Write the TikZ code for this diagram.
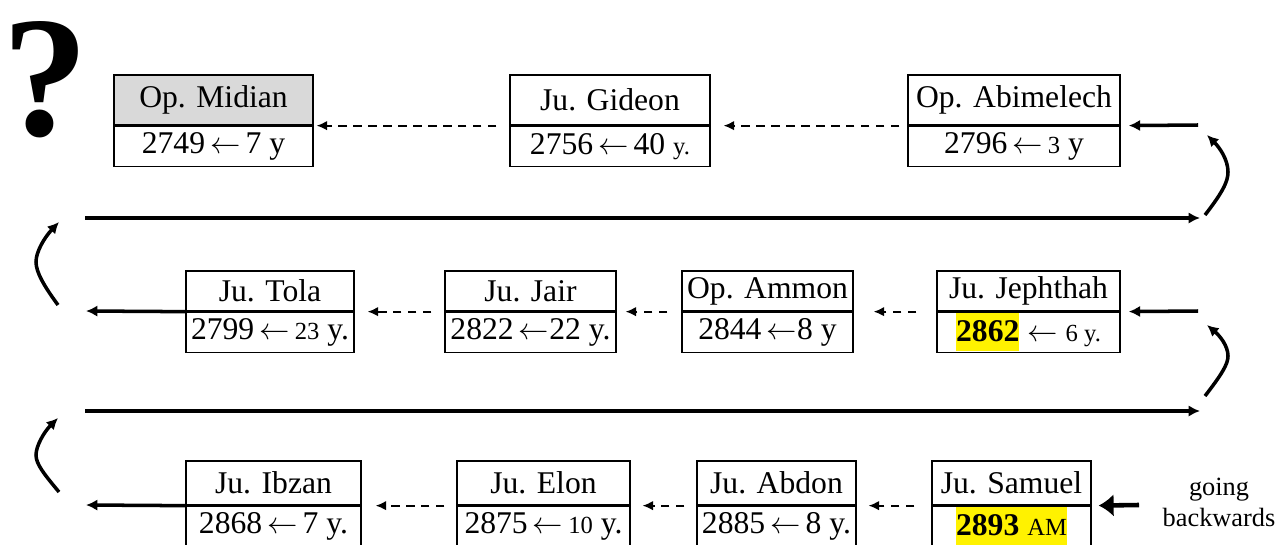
\documentclass[tikz,border=0pt]{standalone}
\usepackage{fontspec}
\setmainfont{Liberation Serif}
\usepackage{tikz}
\usetikzlibrary{arrows.meta,positioning}
\newcommand{\sm}[1]{{\fontsize{14}{14}\selectfont #1}}
\newcommand{\hl}[1]{{\setlength{\fboxsep}{0pt}\colorbox{yellow}{\rule[-5.5pt]{0pt}{21.5pt}#1}}}
\newcommand{\la}{$\,\leftarrow\,$}

\begin{document}
\begin{tikzpicture}[x=0.02cm, y=-0.02cm,
  judge/.style={draw, line width=0.75pt, inner sep=0pt, font=\fontsize{18}{20}\selectfont},
  back/.style={line width=1pt, dash pattern=on 5pt off 3.5pt, -{Latex[length=6pt,width=5.5pt]}},
  turn/.style={line width=2pt, -{Latex[length=6.5pt,width=6.5pt]}}]
\useasboundingbox (0,0) rectangle (1287,544);

% The unknown start
\node[anchor=base, inner sep=0pt, font=\fontsize{98}{98}\selectfont\bfseries] (what) at (46,135) {?};

% Top row of boxes
\node[judge, fill=black!15, minimum width=3.98cm, minimum height=1cm] (midian) at (213.5,100) {Op. Midian};
\node[judge, minimum width=3.98cm, minimum height=0.8cm, below=0pt of midian] (midian-y) {2749\la7 y};
\node[judge, minimum width=4cm, minimum height=1cm] (gideon) at (610,100) {Ju. Gideon};
\node[judge, minimum width=4cm, minimum height=0.8cm, below=0pt of gideon] (gideon-y) {2756\la40 \sm{y.}};
\node[judge, minimum width=4.24cm, minimum height=1cm] (abimelech) at (1014,100) {Op. Abimelech};
\node[judge, minimum width=4.24cm, minimum height=0.8cm, below=0pt of abimelech] (abimelech-y) {2796\la\sm{3} y};

% Middle row of boxes
\node[judge, minimum width=3.36cm, minimum height=0.8cm] (tola) at (270,291) {Ju. Tola};
\node[judge, minimum width=3.36cm, minimum height=0.8cm, below=0pt of tola] (tola-y) {2799\la\sm{23} y.};
\node[judge, minimum width=3.42cm, minimum height=0.8cm] (jair) at (530.5,291) {Ju. Jair};
\node[judge, minimum width=3.42cm, minimum height=0.8cm, below=0pt of jair] (jair-y) {2822\,$\leftarrow$22 y.};
\node[judge, minimum width=3.42cm, minimum height=0.8cm] (ammon) at (767.5,291) {Op. Ammon};
\node[judge, minimum width=3.42cm, minimum height=0.8cm, below=0pt of ammon] (ammon-y) {2844\,$\leftarrow$8 y};
\node[judge, minimum width=3.66cm, minimum height=0.8cm] (jephthah) at (1028.5,291) {Ju. Jephthah};
\node[judge, minimum width=3.66cm, minimum height=0.8cm, below=0pt of jephthah] (jephthah-y) {\hl{\textbf{2862}}\ $\leftarrow$\ \sm{6 y.}};

% Bottom row of boxes
\node[judge, minimum width=3.5cm, minimum height=0.88cm] (ibzan) at (273.5,483) {Ju. Ibzan};
\node[judge, minimum width=3.5cm, minimum height=0.8cm, below=0pt of ibzan] (ibzan-y) {2868\la7 y.};
\node[judge, minimum width=3.46cm, minimum height=0.88cm] (elon) at (543.5,483) {Ju. Elon};
\node[judge, minimum width=3.46cm, minimum height=0.8cm, below=0pt of elon] (elon-y) {2875\la\sm{10} y.};
\node[judge, minimum width=3.18cm, minimum height=0.88cm] (abdon) at (776.5,483) {Ju. Abdon};
\node[judge, minimum width=3.18cm, minimum height=0.8cm, below=0pt of abdon] (abdon-y) {2885\la8 y.};
\node[judge, minimum width=3.18cm, minimum height=0.88cm] (samuel) at (1011.5,483) {Ju. Samuel};
\node[judge, minimum width=3.18cm, minimum height=0.8cm, below=0pt of samuel] (samuel-y) {\hl{\textbf{2893} \sm{AM}}};
\node[align=center, inner sep=0pt, font=\fontsize{15}{17.6}\selectfont] (hint) at (1219,502) {going\\backwards};

% Free ends of the connectors
\coordinate (in1) at (1198,125);
\coordinate (in2) at (1198,311);
\coordinate (in3) at (1139,505);
\coordinate (out2) at (86,311);
\coordinate (out3) at (86,505);
\coordinate (r1a) at (1205,215);
\coordinate (r1b) at (1207,135);
\coordinate (r2a) at (1205,396);
\coordinate (r2b) at (1207,325);
\coordinate (l1a) at (58,305);
\coordinate (l1b) at (59,222);
\coordinate (l2a) at (59,492);
\coordinate (l2b) at (58,418);
\coordinate (s1a) at (85,218);
\coordinate (s1b) at (1200,218);
\coordinate (s2a) at (85,411);
\coordinate (s2b) at (1200,411);

% Top row, read right to left
\draw[turn, shorten >=4.6pt] (in1) -- (abimelech-y.north east);
\draw[back, shorten <=4.6pt, shorten >=7.4pt] (abimelech-y.north west) -- (gideon-y.north east);
\draw[back, shorten <=7.4pt, shorten >=1.7pt] (gideon-y.north west) -- (midian-y.north east);

% Turns between the rows
\draw[turn] (r1a) .. controls (1222,193) and (1228,182) .. (1228,172) .. controls (1228,160) and (1220,148) .. (r1b);
\draw[turn] (s1a) -- (s1b);
\draw[turn] (l1a) .. controls (44,286) and (36,272) .. (36,262) .. controls (36,252) and (44,238) .. (l1b);
\draw[turn] (r2a) .. controls (1222,374) and (1228,364) .. (1228,356) .. controls (1228,346) and (1220,336) .. (r2b);
\draw[turn] (s2a) -- (s2b);
\draw[turn] (l2a) .. controls (44,474) and (36,464) .. (36,455) .. controls (36,446) and (44,432) .. (l2b);

% Middle row
\draw[turn, shorten >=4.6pt] (in2) -- (jephthah-y.north east);
\draw[back, shorten <=11.4pt, shorten >=11.4pt] (jephthah-y.north west) -- (ammon-y.north east);
\draw[back, shorten <=8pt, shorten >=5.1pt] (ammon-y.north west) -- (jair-y.north east);
\draw[back, shorten <=7.4pt, shorten >=7.4pt] (jair-y.north west) -- (tola-y.north east);
\draw[turn] (tola-y.north west) -- (out2);

% Bottom row
\draw[line width=2.6pt, -{Latex[length=8.5pt,width=13pt]}, shorten >=4pt] (in3) -- (samuel-y.north east);
\draw[back, shorten <=9.7pt, shorten >=6.8pt] (samuel-y.north west) -- (abdon-y.north east);
\draw[back, shorten <=6.8pt, shorten >=6.8pt] (abdon-y.north west) -- (elon-y.north east);
\draw[back, shorten <=6.8pt, shorten >=8pt] (elon-y.north west) -- (ibzan-y.north east);
\draw[turn] (ibzan-y.north west) -- (out3);
\end{tikzpicture}
\end{document}
